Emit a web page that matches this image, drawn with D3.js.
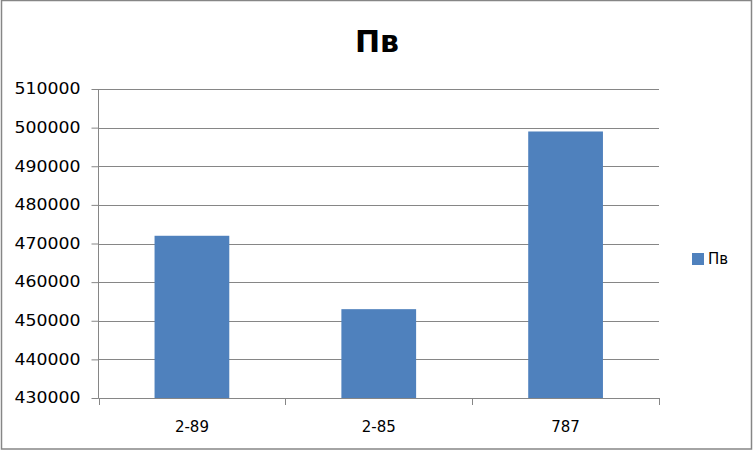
<!DOCTYPE html>
<html><head><meta charset="utf-8">
<script src="https://cdn.jsdelivr.net/npm/d3@7"></script>
<style>body{margin:0;background:#fff}svg{display:block}</style>
</head><body>
<script>
const categories = ["2-89", "2-85", "787"];
const values = [472000, 453000, 499000];
const seriesName = "Пв";
const yTicks = [430000, 440000, 450000, 460000, 470000, 480000, 490000, 500000, 510000];

(function () {
const W = 753, H = 451;
const svg = d3.select("body").append("svg").attr("width", W).attr("height", H);
svg.append("rect").attr("x", 1.5).attr("y", 0.5).attr("width", 750).attr("height", 448.5)
  .attr("fill", "#fff").attr("stroke", "#868686").attr("stroke-width", 1.5);

const pLeft = 98.5, pRight = 659, pTop = 89, pBottom = 398;
const x = d3.scaleBand().domain(categories).range([pLeft, pRight]).paddingInner(0.6).paddingOuter(0.3);
const y = d3.scaleLinear().domain([430000, 510000]).range([pBottom, pTop]);

const font = "DejaVu Sans, Verdana, sans-serif";

svg.append("g").selectAll("line").data(yTicks).join("line")
  .attr("x1", pLeft).attr("x2", pRight)
  .attr("y1", d => Math.round(y(d)) + 0.5).attr("y2", d => Math.round(y(d)) + 0.5)
  .attr("stroke", "#868686").attr("stroke-width", 1);

svg.append("g").selectAll("rect").data(values).join("rect")
  .attr("x", (d, i) => x(categories[i]))
  .attr("width", x.bandwidth())
  .attr("y", d => y(d))
  .attr("height", d => y(430000) - y(d))
  .attr("fill", "#4F81BD");

const yAxis = d3.axisLeft(y).tickValues(yTicks).tickSize(7).tickPadding(11).tickFormat(d3.format("d"));
const gy = svg.append("g").attr("transform", `translate(${pLeft},0)`).call(yAxis);
gy.select(".domain").attr("stroke", "#868686").attr("d", `M0,${pTop}V${pBottom}`);
gy.selectAll(".tick line").attr("stroke", "#868686");
gy.selectAll("text").attr("font-family", font).attr("font-size", 15).attr("fill", "#000")
  .attr("textLength", 66).attr("lengthAdjust", "spacingAndGlyphs");

const step = x.step();
const bounds = [pLeft, ...categories.map(c => x(c) + x.bandwidth() / 2 + step / 2)];
const gx = svg.append("g");
gx.append("line").attr("x1", pLeft).attr("x2", pRight).attr("y1", pBottom + 0.5).attr("y2", pBottom + 0.5).attr("stroke", "#868686");
gx.selectAll("line.t").data(bounds).join("line").attr("class", "t")
  .attr("x1", d => Math.round(d) + 0.5).attr("x2", d => Math.round(d) + 0.5)
  .attr("y1", pBottom).attr("y2", pBottom + 7).attr("stroke", "#868686");
gx.selectAll("text").data(categories).join("text")
  .attr("x", d => x(d) + x.bandwidth() / 2).attr("y", 432)
  .attr("text-anchor", "middle").attr("font-family", font).attr("font-size", 15).text(d => d);

svg.append("text").attr("x", 377).attr("y", 52).attr("text-anchor", "middle")
  .attr("font-family", font).attr("font-weight", "bold").attr("font-size", 30).text(seriesName);

svg.append("rect").attr("x", 692).attr("y", 253).attr("width", 12).attr("height", 12).attr("fill", "#4F81BD");
svg.append("text").attr("x", 708).attr("y", 264).attr("font-family", font).attr("font-size", 15).text(seriesName);
})();
</script>
</body></html>
